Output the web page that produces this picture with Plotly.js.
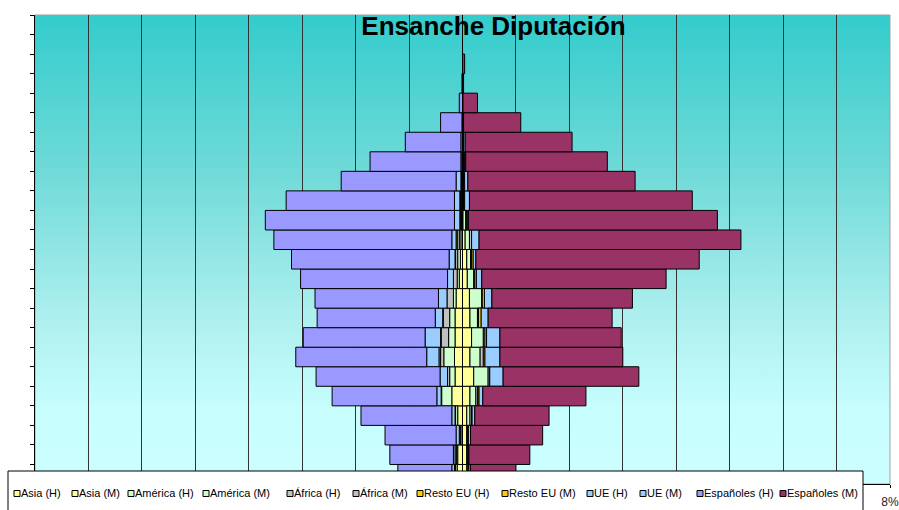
<!DOCTYPE html>
<html>
<head>
<meta charset="utf-8">
<script src="https://cdn.plot.ly/plotly-3.0.1.min.js"></script>
<style>html,body{margin:0;padding:0;background:#fff;}#chart{width:899px;height:510px;}</style>
</head>
<body>
<div id="chart"></div>
<script>
// ---- data (percent of total population), index 0 = youngest age group ----
const ageGroups = ['0-4','5-9','10-14','15-19','20-24','25-29','30-34','35-39','40-44','45-49','50-54','55-59',
                   '60-64','65-69','70-74','75-79','80-84','85-89','90-94','95-99','100-104','105-109','110-114','115-119'];

const asiaH     = [0.10,0.09,0.03,0.09,0.20,0.14,0.15,0.14,0.14,0.12,0.06,0.04,0.03,0.02,0.02,0.01,0.01,0,0,0,0,0,0,0];
const asiaM     = [0.08,0.08,0.08,0.08,0.14,0.21,0.14,0.17,0.14,0.13,0.09,0.08,0.05,0.01,0.01,0.01,0.01,0.01,0,0,0,0,0,0];
const americaH  = [0.03,0.02,0.01,0.04,0.19,0.10,0.20,0.12,0.10,0.05,0.04,0.05,0.03,0.01,0.01,0.01,0,0,0,0,0,0,0,0];
const americaM  = [0.02,0.01,0.01,0.06,0.11,0.27,0.19,0.22,0.14,0.23,0.12,0.07,0.08,0.05,0.01,0.01,0.01,0,0,0,0,0,0,0];
const africaH   = [0.02,0.03,0.02,0.01,0.01,0.04,0.06,0.14,0.12,0.12,0.07,0.04,0.04,0.01,0.01,0.01,0,0,0.01,0,0,0,0,0];
const africaM   = [0.02,0.02,0.02,0.03,0.04,0.03,0.06,0.03,0.02,0.01,0.02,0.02,0.04,0.02,0.01,0.01,0.01,0.01,0.01,0,0,0,0,0];
const restoEuH  = [0,0,0,0,0,0,0.03,0.01,0.01,0,0,0.01,0.02,0.01,0.01,0,0,0,0,0,0,0,0,0];
const restoEuM  = [0,0,0,0.01,0.02,0,0.03,0.03,0.05,0.04,0.03,0.03,0,0.01,0.01,0.01,0.01,0,0,0,0,0,0,0];
const ueH       = [0.05,0.03,0.06,0.06,0.08,0.14,0.23,0.29,0.14,0.16,0.11,0.11,0.08,0.10,0.10,0.09,0.02,0.03,0,0,0,0,0,0];
const ueM       = [0.03,0.01,0.04,0.05,0.07,0.25,0.28,0.25,0.13,0.14,0.10,0.05,0.14,0.02,0.09,0.06,0.02,0.03,0.01,0.01,0,0,0,0];
const espanolesH= [1.01,1.19,1.33,1.70,1.96,2.32,2.45,2.28,2.21,2.31,2.75,2.95,3.33,3.54,3.15,2.15,1.70,1.04,0.40,0.06,0.01,0,0,0];
const espanolesM= [0.85,1.14,1.35,1.39,1.93,2.54,2.30,2.27,2.32,2.63,3.45,4.18,4.90,4.66,4.17,3.13,2.65,2.00,1.07,0.27,0.02,0.04,0,0];

const seriesNames = ['Asia (H)','Asia (M)','América (H)','América (M)','África (H)','África (M)',
                     'Resto EU (H)','Resto EU (M)','UE (H)','UE (M)','Españoles (H)','Españoles (M)'];
const seriesValues = [asiaH, asiaM, americaH, americaM, africaH, africaM, restoEuH, restoEuM, ueH, ueM, espanolesH, espanolesM];
const seriesIsMen = [true,false,true,false,true,false,true,false,true,false,true,false];

const xTickVals = [-8,-7,-6,-5,-4,-3,-2,-1,0,1,2,3,4,5,6,7,8];
const xTickText = ['','','','','','','','','','','','','','','','','8%'];

// ---- styles ----
const seriesColors = ['#FFFF99','#FFFF99','#CCFFCC','#CCFFCC','#C0C0C0','#C0C0C0',
                      '#FFCC00','#FFCC00','#99CCFF','#99CCFF','#9999FF','#993366'];

const W = 899, H = 510, ML = 35, MR = 9, MT = 15, MB = 26;
const PW = W - ML - MR, PH = H - MT - MB;
const px2x = p => (p - ML) / PW;
const py2y = p => (H - MB - p) / PH;

const traces = seriesNames.map((name, i) => ({
  type: 'bar',
  orientation: 'h',
  name: name,
  y: ageGroups,
  x: seriesValues[i].map(v => seriesIsMen[i] ? -v : v),
  marker: { color: seriesColors[i], line: { color: '#000000', width: 1 } },
  hoverinfo: 'skip'
}));

// custom legend (Excel-like compact legend)
const legendItemPx = [14,72,128,203,287,353,417,502,587,640,697,780];
const shapes = [
  { type: 'rect', xref: 'paper', yref: 'paper', x0: 0, x1: 1, y0: 0, y1: 1,
    line: { color: '#A0A0A0', width: 1 }, fillcolor: 'rgba(0,0,0,0)', layer: 'below' },
  { type: 'rect', xref: 'paper', yref: 'paper', x0: px2x(8), x1: px2x(863), y0: py2y(515), y1: py2y(471),
    line: { color: '#000000', width: 1 }, fillcolor: '#FFFFFF', layer: 'above' }
];
const annotations = [];
seriesNames.forEach((name, i) => {
  const p = legendItemPx[i];
  shapes.push({ type: 'rect', xref: 'paper', yref: 'paper',
    x0: px2x(p), x1: px2x(p + 6), y0: py2y(496.5), y1: py2y(490.5),
    line: { color: '#000000', width: 1 }, fillcolor: seriesColors[i], layer: 'above' });
  annotations.push({ xref: 'paper', yref: 'paper', x: px2x(p + 5), y: py2y(493),
    xanchor: 'left', yanchor: 'middle', showarrow: false, text: name,
    font: { family: 'Liberation Sans, Arial, sans-serif', size: 11, color: '#000000' } });
});

const gradSvg = '<svg xmlns="http://www.w3.org/2000/svg" width="10" height="100" preserveAspectRatio="none">' +
  '<defs><linearGradient id="g" x1="0" y1="0" x2="0" y2="1">' +
  '<stop offset="0" stop-color="#33CCCC"/><stop offset="0.33" stop-color="#6FDAD8"/>' +
  '<stop offset="0.65" stop-color="#AEF0EF"/><stop offset="0.85" stop-color="#C8FEFE"/>' +
  '<stop offset="1" stop-color="#CCFFFF"/></linearGradient></defs>' +
  '<rect width="10" height="100" fill="url(#g)"/></svg>';

const layout = {
  width: W, height: H,
  margin: { l: ML, r: MR, t: MT, b: MB, pad: 0 },
  paper_bgcolor: '#FFFFFF',
  plot_bgcolor: 'rgba(0,0,0,0)',
  font: { family: 'Liberation Sans, Arial, sans-serif', size: 11, color: '#000' },
  title: { text: '<b>Ensanche Diputación</b>', xref: 'paper', x: px2x(493.5), xanchor: 'center',
           yref: 'container', y: 1 - 26 / H, yanchor: 'middle',
           font: { family: 'Liberation Sans, Arial, sans-serif', size: 26, color: '#000' } },
  barmode: 'relative',
  bargap: 0,
  showlegend: false,
  xaxis: { range: [-8, 8], tickmode: 'array', tickvals: xTickVals, ticktext: xTickText,
           showgrid: true, gridcolor: '#333333', gridwidth: 1, zeroline: false,
           showline: true, linecolor: '#000000', linewidth: 1,
           ticks: 'outside', ticklen: 3, tickcolor: '#000000', ticklabeloverflow: 'allow',
           ticklabelstandoff: 4,
           tickfont: { family: 'Liberation Sans, Arial, sans-serif', size: 12, color: '#222' },
           fixedrange: true },
  yaxis: { type: 'category', categoryorder: 'array', categoryarray: ageGroups,
           showticklabels: false, tickson: 'boundaries', ticks: 'outside', ticklen: 4,
           tickcolor: '#000000', showgrid: false, zeroline: false,
           showline: true, linecolor: '#000000', linewidth: 1, fixedrange: true },
  images: [{ source: 'data:image/svg+xml;charset=utf-8,' + encodeURIComponent(gradSvg),
             xref: 'paper', yref: 'paper', x: 0, y: 1, sizex: 1, sizey: 1,
             xanchor: 'left', yanchor: 'top', sizing: 'stretch', layer: 'below' }],
  shapes: shapes,
  annotations: annotations
};

Plotly.newPlot('chart', traces, layout, { displayModeBar: false, staticPlot: true });
</script>
</body>
</html>
